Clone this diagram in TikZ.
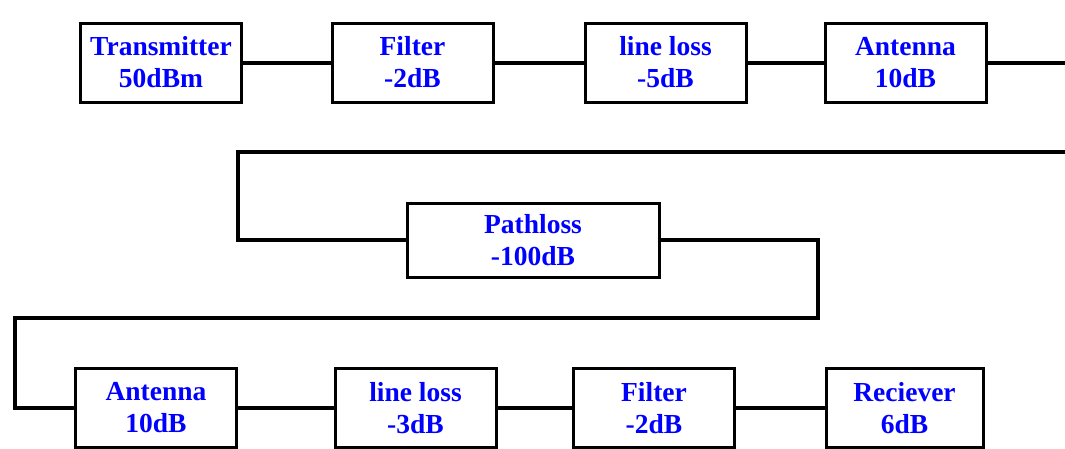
\documentclass[tikz,border=0pt]{standalone}
\usepackage{fontspec}
\setmainfont{Liberation Serif}
\definecolor{labelblue}{RGB}{0,0,255}
\begin{document}
\begin{tikzpicture}[x=1pt,y=-1pt,
  blk/.style={draw=black, line width=3pt, fill=white, minimum height=79pt, minimum width=161pt,
    inner sep=0pt, align=center, text=labelblue,
    font=\fontsize{27.5}{32}\selectfont\bfseries},
  wire/.style={line width=4pt, line join=miter}]
\useasboundingbox (0,0) rectangle (1065,448);
\fill[white] (0,0) rectangle (1065,448);
\coordinate (e1) at (1065,62.5);
\coordinate (e2) at (1065,152);
\coordinate (k1) at (238,152);
\coordinate (k2) at (818,318);
\coordinate (k3) at (15,318);
% top row
\node[blk] (tx) at (161,62.5) {Transmitter\\50dBm};
\node[blk] (f1) at (412.5,62.5) {Filter\\-2dB};
\node[blk] (l1) at (665.5,62.5) {line loss\\-5dB};
\node[blk] (a1) at (905.5,62.5) {Antenna\\10dB};
% path loss
\node[blk, minimum width=252pt, minimum height=74pt] (pl) at (533,240) {Pathloss\\-100dB};
% bottom row
\node[blk] (a2) at (156,408) {Antenna\\10dB};
\node[blk] (l2) at (415.5,408) {line loss\\-3dB};
\node[blk] (f2) at (654,408) {Filter\\-2dB};
\node[blk, minimum width=157pt] (rx) at (904.5,408) {Reciever\\6dB};
\draw[wire] (tx.east) -- (f1.west);
\draw[wire] (f1.east) -- (l1.west);
\draw[wire] (l1.east) -- (a1.west);
\draw[wire] (a1.east) -- (e1);
\draw[wire] (e2) -- (k1) |- (pl.west);
\draw[wire] (pl.east) -| (k2) -- (k3) |- (a2.west);
\draw[wire] (a2.east) -- (l2.west);
\draw[wire] (l2.east) -- (f2.west);
\draw[wire] (f2.east) -- (rx.west);
\end{tikzpicture}
\end{document}
